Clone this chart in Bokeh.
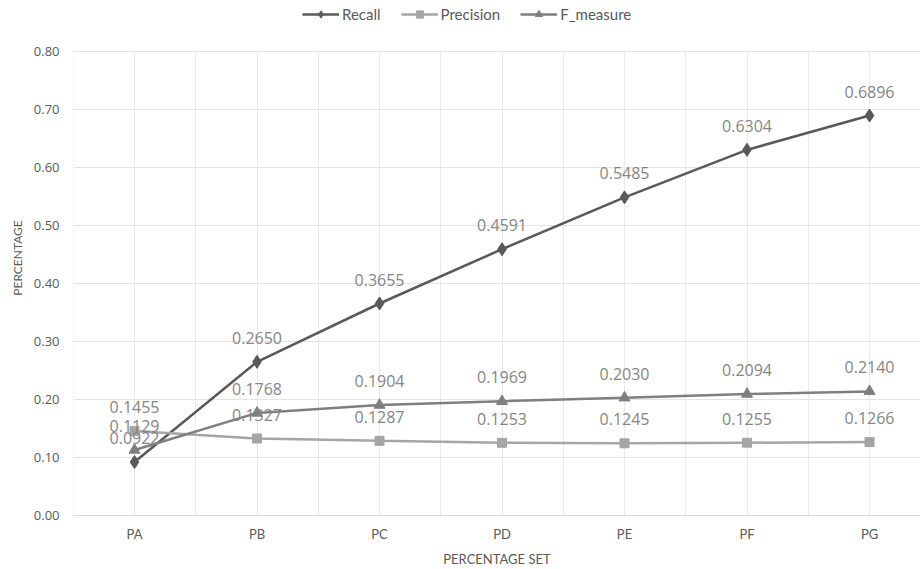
from bokeh.plotting import figure
from bokeh.models import (Range1d, FixedTicker, Legend, LegendItem, Grid,
                          ColumnDataSource)
from bokeh.core.properties import value
from bokeh.embed import file_html
from bokeh.resources import INLINE

categories = ["PA", "PB", "PC", "PD", "PE", "PF", "PG"]
recall = [0.0922, 0.2650, 0.3655, 0.4591, 0.5485, 0.6304, 0.6896]
precision = [0.1455, 0.1327, 0.1287, 0.1253, 0.1245, 0.1255, 0.1266]
f_measure = [0.1129, 0.1768, 0.1904, 0.1969, 0.2030, 0.2094, 0.2140]
y_ticks = [0.0, 0.1, 0.2, 0.3, 0.4, 0.5, 0.6, 0.7, 0.8]
y_max = 0.8

xs = list(range(len(categories)))

# frame spans to the top of the canvas; area above 0.80 holds the legend
p = figure(width=920, height=569, output_backend="svg", toolbar_location=None,
           x_range=Range1d(-0.498, 6.416), y_range=Range1d(0, 0.8879),
           min_border_left=73, min_border_right=0, min_border_top=0,
           min_border_bottom=54)

p.background_fill_color = "white"
p.border_fill_color = "white"
p.outline_line_color = None

# grids
p.xgrid.visible = False
p.ygrid.ticker = FixedTicker(ticks=y_ticks)
p.ygrid.grid_line_color = "#e3e3e3"
p.ygrid.grid_line_width = 1
vgrid = Grid(dimension=0, ticker=FixedTicker(ticks=[i * 0.5 - 0.5 for i in range(15)]),
             grid_line_color="#e9e9e9", grid_line_width=1,
             cross_bounds=(0, y_max))
p.add_layout(vgrid)

# axes
xa = p.xaxis[0]
xa.ticker = FixedTicker(ticks=xs)
xa.major_label_overrides = {i: c for i, c in enumerate(categories)}
xa.axis_line_color = "#d9d9d9"
xa.major_tick_line_color = None
xa.minor_tick_line_color = None
xa.major_tick_out = 0
xa.major_label_standoff = 10
xa.major_label_text_font = "Lato"
xa.major_label_text_font_size = "13px"
xa.major_label_text_color = "#595959"
xa.axis_label = "PERCENTAGE SET"
xa.axis_label_text_font = "Lato"
xa.axis_label_text_font_size = "13px"
xa.axis_label_text_font_style = "normal"
xa.axis_label_text_color = "#595959"
xa.axis_label_standoff = 6

ya = p.yaxis[0]
ya.ticker = FixedTicker(ticks=y_ticks)
ya.major_label_overrides = {t: f"{t:.2f}" for t in y_ticks}
ya.axis_line_color = None
ya.major_tick_line_color = None
ya.minor_tick_line_color = None
ya.major_tick_out = 0
ya.major_label_standoff = 14
ya.major_label_text_font = "Open Sans"
ya.major_label_text_font_size = "13px"
ya.major_label_text_color = "#595959"
ya.axis_label = "PERCENTAGE"
ya.axis_label_text_font = "Lato"
ya.axis_label_text_font_size = "12px"
ya.axis_label_text_font_style = "normal"
ya.axis_label_text_color = "#595959"
ya.axis_label_standoff = 6

series = [
    ("Recall", recall, "#595959", "diamond", 13),
    ("Precision", precision, "#a5a5a5", "square", 9),
    ("F_measure", f_measure, "#7f7f7f", "triangle", 11),
]

items = []
for name, vals, color, marker, size in series:
    src = ColumnDataSource(dict(x=xs, y=vals))
    ln = p.line("x", "y", source=src, line_color=color, line_width=2.5)
    sc = p.scatter("x", "y", source=src, marker=marker, size=size,
                   fill_color=color, line_color=color)
    items.append(LegendItem(label=name, renderers=[ln, sc]))

for name, vals, color, marker, size in series:
    src = ColumnDataSource(dict(x=xs, y=vals, t=[f"{v:.4f}" for v in vals]))
    p.text("x", "y", text="t", source=src, y_offset=-24,
           text_align="center", text_baseline="middle",
           text_font=value("Open Sans"), text_font_size="16px",
           text_color="#858585")

legend = Legend(items=items, orientation="horizontal", location=(229, 492),
                border_line_color=None, background_fill_alpha=0,
                padding=0, margin=0, spacing=20, label_standoff=3,
                glyph_width=37, glyph_height=18, label_height=18,
                label_text_font="Lato", label_text_font_size="15px",
                label_text_color="#595959")
p.add_layout(legend, "center")

open("out.html", "w").write(file_html(p, INLINE))
